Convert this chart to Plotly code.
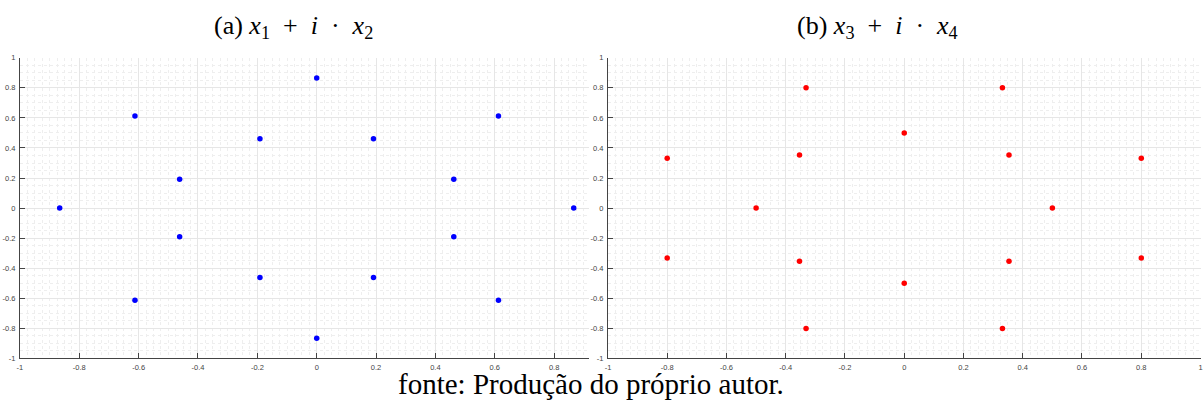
import plotly.graph_objects as go

# Constellation (a): x1 + i*x2
a_re = [0.0, 0.0, 0.866, -0.866, 0.6124, -0.6124, 0.6124, -0.6124,
        0.1913, -0.1913, 0.1913, -0.1913, 0.4619, -0.4619, 0.4619, -0.4619]
a_im = [0.866, -0.866, 0.0, 0.0, 0.6124, 0.6124, -0.6124, -0.6124,
        0.4619, 0.4619, -0.4619, -0.4619, 0.1913, 0.1913, -0.1913, -0.1913]

# Constellation (b): x3 + i*x4
b_re = [0.3314, -0.3314, 0.3314, -0.3314, 0.8001, -0.8001, 0.8001, -0.8001,
        0.0, 0.0, 0.5, -0.5, 0.3536, -0.3536, 0.3536, -0.3536]
b_im = [0.8001, 0.8001, -0.8001, -0.8001, 0.3314, 0.3314, -0.3314, -0.3314,
        0.5, -0.5, 0.0, 0.0, 0.3536, 0.3536, -0.3536, -0.3536]

tick_vals = [-1, -0.8, -0.6, -0.4, -0.2, 0, 0.2, 0.4, 0.6, 0.8, 1]
tick_text = ["-1", "-0.8", "-0.6", "-0.4", "-0.2", "0", "0.2", "0.4", "0.6", "0.8", "1"]

W, H = 1204, 405
AX = "#444444"

# the left panel is clipped on its right side by the second panel
LEFT_XMAX = 0.916

fig = go.Figure()
fig.add_trace(go.Scatter(x=a_re, y=a_im, mode="markers",
                         marker=dict(color="#0000ff", size=5.5),
                         xaxis="x", yaxis="y", showlegend=False))
fig.add_trace(go.Scatter(x=b_re, y=b_im, mode="markers",
                         marker=dict(color="#ff0000", size=5.5),
                         xaxis="x2", yaxis="y2", showlegend=False))


def axis_style(minor_step, vmax=1.0):
    keep = [i for i, v in enumerate(tick_vals) if v <= vmax + 1e-9]
    return dict(
        tickmode="array",
        tickvals=[tick_vals[i] for i in keep],
        ticktext=[tick_text[i] for i in keep],
        ticks="inside", ticklen=5, tickcolor=AX, tickwidth=1,
        showline=True, linecolor=AX, linewidth=1, mirror=False,
        zeroline=False,
        showgrid=True, gridcolor="#e6e6e6", gridwidth=1,
        minor=dict(dtick=minor_step, tick0=0, showgrid=True,
                   gridcolor="#eeeeee", griddash="dot", gridwidth=1, ticks=""),
        tickfont=dict(family="Liberation Sans, Arial", size=7.5, color=AX),
        ticklabelstandoff=2,
        ticklabeloverflow="allow",
        fixedrange=True,
    )


y_dom = [1 - 362.5 / H, 1 - 55 / H]

fig.update_layout(
    width=W, height=H,
    margin=dict(l=0, r=0, t=0, b=0),
    paper_bgcolor="white", plot_bgcolor="white",
    xaxis=dict(domain=[17 / W, 588 / W], range=[-1, LEFT_XMAX], anchor="y",
               **axis_style(0.025, LEFT_XMAX)),
    yaxis=dict(domain=y_dom, range=[-1, 1], anchor="x", **axis_style(0.05)),
    xaxis2=dict(domain=[607.5 / W, 1202.5 / W], range=[-1, 1], anchor="y2",
                **axis_style(0.025)),
    yaxis2=dict(domain=y_dom, range=[-1, 1], anchor="x2", **axis_style(0.05)),
)

serif = "Liberation Serif, Times New Roman, serif"
fig.add_annotation(
    text="(a) <i>x</i><sub>1</sub>&nbsp; +&nbsp; <i>i</i>&nbsp; ·&nbsp; <i>x</i><sub>2</sub>",
    x=292 / W, y=1 - 24 / H, xref="paper", yref="paper",
    xanchor="center", yanchor="middle", showarrow=False,
    font=dict(family=serif, size=26, color="black"))
fig.add_annotation(
    text="(b) <i>x</i><sub>3</sub>&nbsp; +&nbsp; <i>i</i>&nbsp; ·&nbsp; <i>x</i><sub>4</sub>",
    x=878 / W, y=1 - 24 / H, xref="paper", yref="paper",
    xanchor="center", yanchor="middle", showarrow=False,
    font=dict(family=serif, size=26, color="black"))
fig.add_annotation(
    text="fonte: Produção do próprio autor.",
    x=590 / W, y=1 - 389 / H, xref="paper", yref="paper",
    xanchor="center", yanchor="middle", showarrow=False,
    font=dict(family=serif, size=29, color="black"))

fig.write_html("out.html", config=dict(displayModeBar=False))
